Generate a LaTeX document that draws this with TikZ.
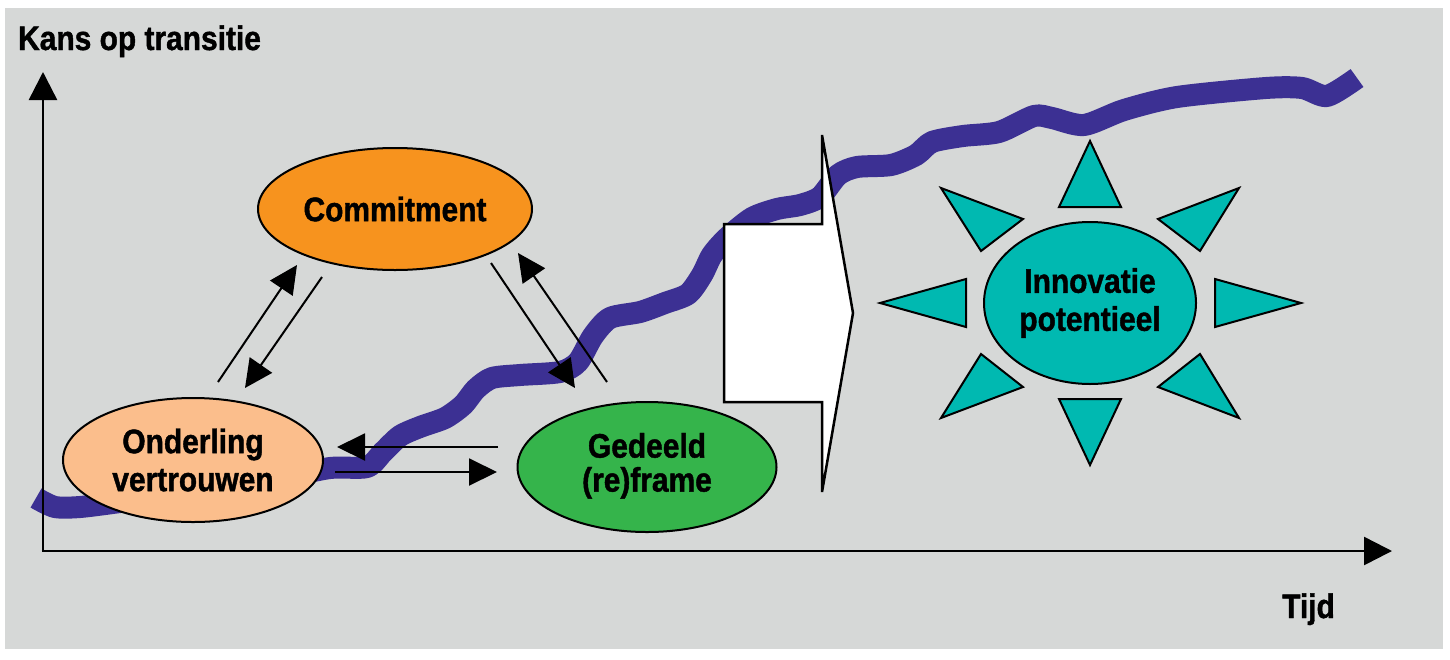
\documentclass[tikz,border=0pt]{standalone}
\usepackage{fontspec}
\newfontfamily\lab{Liberation Sans}[FakeStretch=0.88,FakeBold=1.2]
\usetikzlibrary{arrows.meta,shapes.geometric}
\definecolor{bggray}{HTML}{D6D8D7}
\definecolor{wavecol}{HTML}{3C3093}
\definecolor{orangec}{HTML}{F7931E}
\definecolor{peachc}{HTML}{FBBE8C}
\definecolor{greenc}{HTML}{35B44B}
\definecolor{tealc}{HTML}{00B9B1}
\begin{document}
\begin{tikzpicture}[x=1pt,y=-1pt,
  every node/.style={font=\lab\bfseries\fontsize{34}{38}\selectfont},
  bubble/.style={ellipse, draw=black, line width=2pt, inner sep=0pt, align=center},
  thinarrow/.style={line width=2pt, -{Triangle[length=28pt,width=27pt]}},
  axisline/.style={line width=2.5pt, -{Triangle[length=28pt,width=28pt]}},
  ray/.style={fill=tealc, draw=black, line width=2pt, line join=miter},
  wave/.style={line width=22pt, draw=wavecol, line cap=butt, line join=round},
  bigarrow/.style={fill=white, draw=black, line width=2.5pt, line join=miter}]
\useasboundingbox (0,0) rectangle (1450,659);
\fill[white] (0,0) rectangle (1450,659);
\fill[bggray] (5,8) rectangle (1443,649);
% wave
\draw[wave] plot[smooth, tension=0.45] coordinates {
(36,498) (55,507) (80,507) (120,502) (170,495) (230,487) (280,478) (330,468)
(367,467) (383,452) (400,436) (420,427) (445,418) (463,405) (476,389) (492,378)
(520,375) (560,372) (578,362) (593,336) (610,318) (640,312) (665,303) (688,294)
(702,275) (712,255) (727,238) (752,218) (777,209) (800,205) (820,197) (838,175)
(857,167) (891,165) (916,155) (932,142) (963,136) (999,132) (1034,116) (1052,118)
(1084,125) (1124,110) (1177,97) (1266,88) (1302,88) (1327,96) (1357,78)};
% big arrow
\draw[bigarrow] (724,224) -- (822,224) -- (822,135) -- (853,313) -- (822,492)
  -- (822,402) -- (724,402) -- cycle;
% ellipses
\node[bubble, fill=orangec, minimum width=274pt, minimum height=122pt] (com) at (395,209) {Commitment};
\node[bubble, fill=peachc, minimum width=260pt, minimum height=124pt] (ond) at (193,460) {Onderling\\vertrouwen};
\node[bubble, fill=greenc, minimum width=259pt, minimum height=130pt] (ged) at (647,467) {\raisebox{4pt}{\begin{tabular}{@{}c@{}}Gedeeld\\[-4pt](re)frame\end{tabular}}};
\node[bubble, fill=tealc, minimum width=212pt, minimum height=162pt] (inn) at (1090,303) {Innovatie\\potentieel};
% thin arrows
\coordinate (l1a) at (218,382); \coordinate (l1b) at (297,265);
\coordinate (l2a) at (322,277); \coordinate (l2b) at (245,388);
\coordinate (r1a) at (491,263); \coordinate (r1b) at (575,388);
\coordinate (r2a) at (607,382); \coordinate (r2b) at (518,253);
\coordinate (h1a) at (498,447); \coordinate (h1b) at (337,447);
\coordinate (h2a) at (335,472); \coordinate (h2b) at (497,472);
\draw[thinarrow] (l1a) -- (l1b);
\draw[thinarrow] (l2a) -- (l2b);
\draw[thinarrow] (r1a) -- (r1b);
\draw[thinarrow] (r2a) -- (r2b);
\draw[thinarrow] (h1a) -- (h1b);
\draw[thinarrow] (h2a) -- (h2b);
% sun rays
\draw[ray] (1090,141) -- (1059,207) -- (1121,207) -- cycle;
\draw[ray] (941,188) -- (1023,219) -- (981,251) -- cycle;
\draw[ray] (1239,188) -- (1158,219) -- (1200,251) -- cycle;
\draw[ray] (880,303) -- (966,279) -- (966,327) -- cycle;
\draw[ray] (1301,303) -- (1215,279) -- (1215,327) -- cycle;
\draw[ray] (981,354) -- (1023,387) -- (941,418) -- cycle;
\draw[ray] (1200,354) -- (1158,387) -- (1239,418) -- cycle;
\draw[ray] (1059,399) -- (1121,399) -- (1090,465) -- cycle;
% axes
\coordinate (orig) at (43,551);
\coordinate (ytip) at (43,72);
\coordinate (xtip) at (1392,551);
\draw[axisline] (orig) -- (ytip);
\draw[axisline] ([xshift=-1.25pt]orig) -- (xtip);
\node[anchor=base west, inner sep=0pt] (ylab) at (18,50) {Kans op transitie};
\node[anchor=base west, inner sep=0pt] (xlab) at (1282,618) {Tijd};
\end{tikzpicture}
\end{document}
